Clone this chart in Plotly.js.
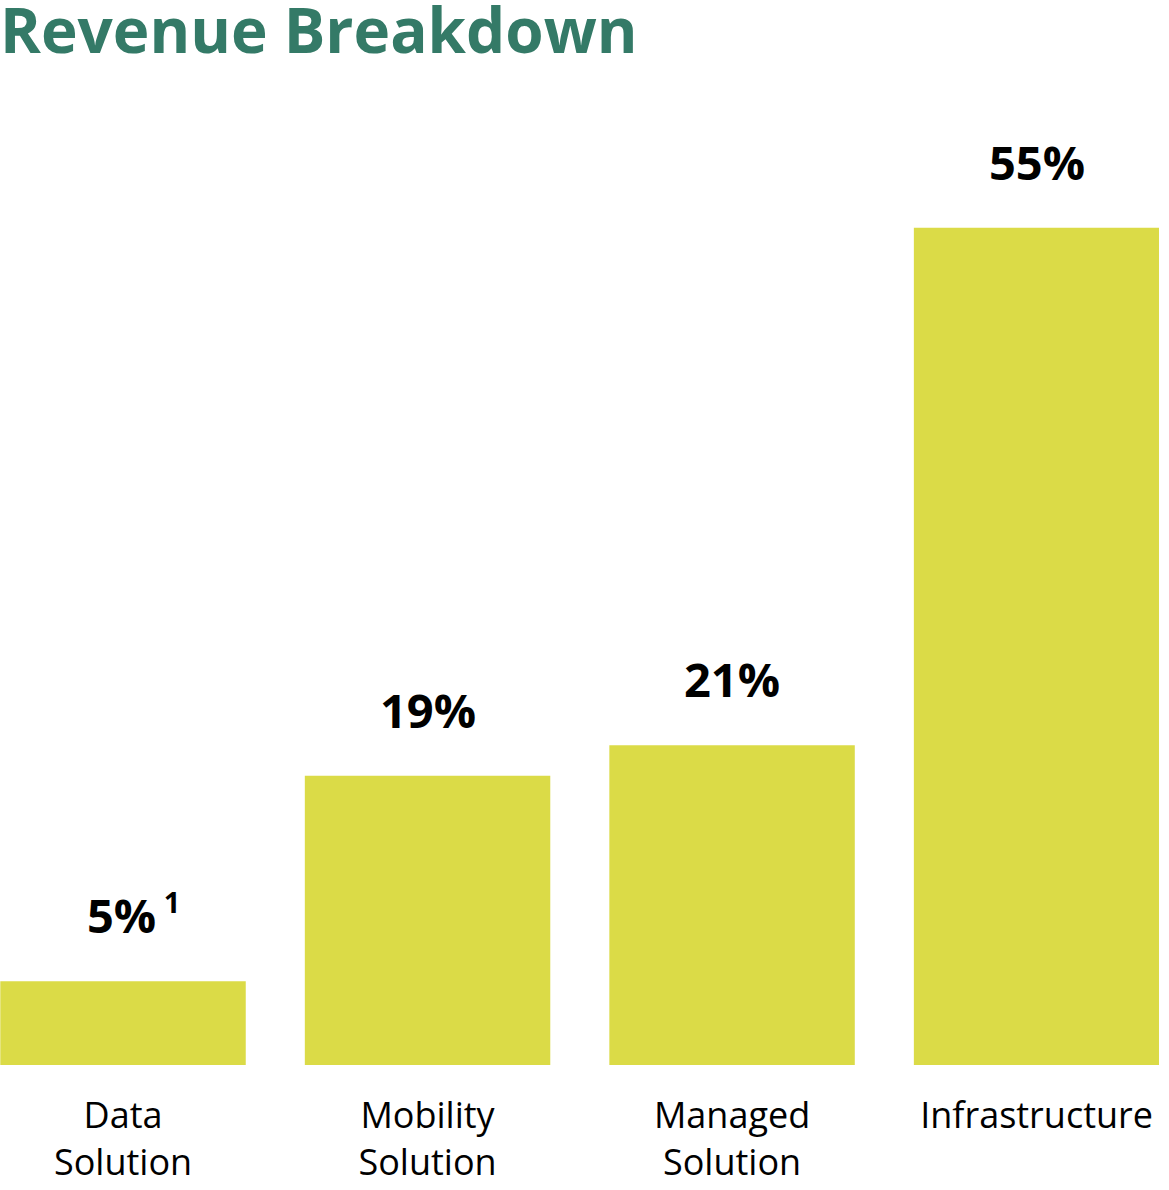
<!DOCTYPE html>
<html>
<head>
<meta charset="utf-8">
<script src="https://cdn.plot.ly/plotly-3.0.1.min.js"></script>
<style>html,body{margin:0;padding:0;background:#fff;}#chart{width:1169px;height:1190px;}</style>
</head>
<body>
<div id="chart"></div>
<script>
const categories = ["Data Solution", "Mobility Solution", "Managed Solution", "Infrastructure"];
const tickLabels = ["Data<br>Solution", "Mobility<br>Solution", "Managed<br>Solution", "Infrastructure"];
const barValues = [5.5, 19, 21, 55];
const valueLabels = ["5%<sup><span style='font-size:29px'> 1</span></sup>", "19%", "21%", "55%"];

const BAR_COLOR = "#dbdb47";
const TITLE_COLOR = "#347a67";
const FONT = "Open Sans, sans-serif";

const annotations = categories.map((c, i) => ({
  x: c, y: barValues[i], xref: "x", yref: "y",
  text: valueLabels[i], showarrow: false,
  yanchor: "bottom", yshift: 32, xshift: i === 0 ? 10 : 0,
  font: {family: FONT, size: 47, color: "#000", weight: 700}
}));

const data = [{
  type: "bar",
  x: categories,
  y: barValues,
  marker: {color: BAR_COLOR},
  hoverinfo: "skip"
}];

const layout = {
  width: 1169, height: 1190,
  margin: {l: 0, r: 10, t: 100, b: 125},
  paper_bgcolor: "#fff", plot_bgcolor: "#fff",
  bargap: 0.194,
  showlegend: false,
  title: {
    text: "Revenue Breakdown",
    x: 0, xanchor: "left", xref: "paper",
    y: 1, yanchor: "top", yref: "container",
    pad: {t: 10, l: 0},
    font: {family: FONT, size: 62, color: TITLE_COLOR, weight: 700}
  },
  xaxis: {
    type: "category",
    range: [-0.404, 3.402],
    tickvals: categories,
    ticktext: tickLabels,
    showgrid: false, zeroline: false, showline: false,
    ticks: "", ticklen: 0,
    ticklabelstandoff: 26,
    tickfont: {family: FONT, size: 36, color: "#000"},
    automargin: false
  },
  yaxis: {
    range: [0, 63.4],
    visible: false,
    showgrid: false, zeroline: false, fixedrange: true
  },
  annotations: annotations
};

Plotly.newPlot("chart", data, layout, {displayModeBar: false, staticPlot: true});
</script>
</body>
</html>
